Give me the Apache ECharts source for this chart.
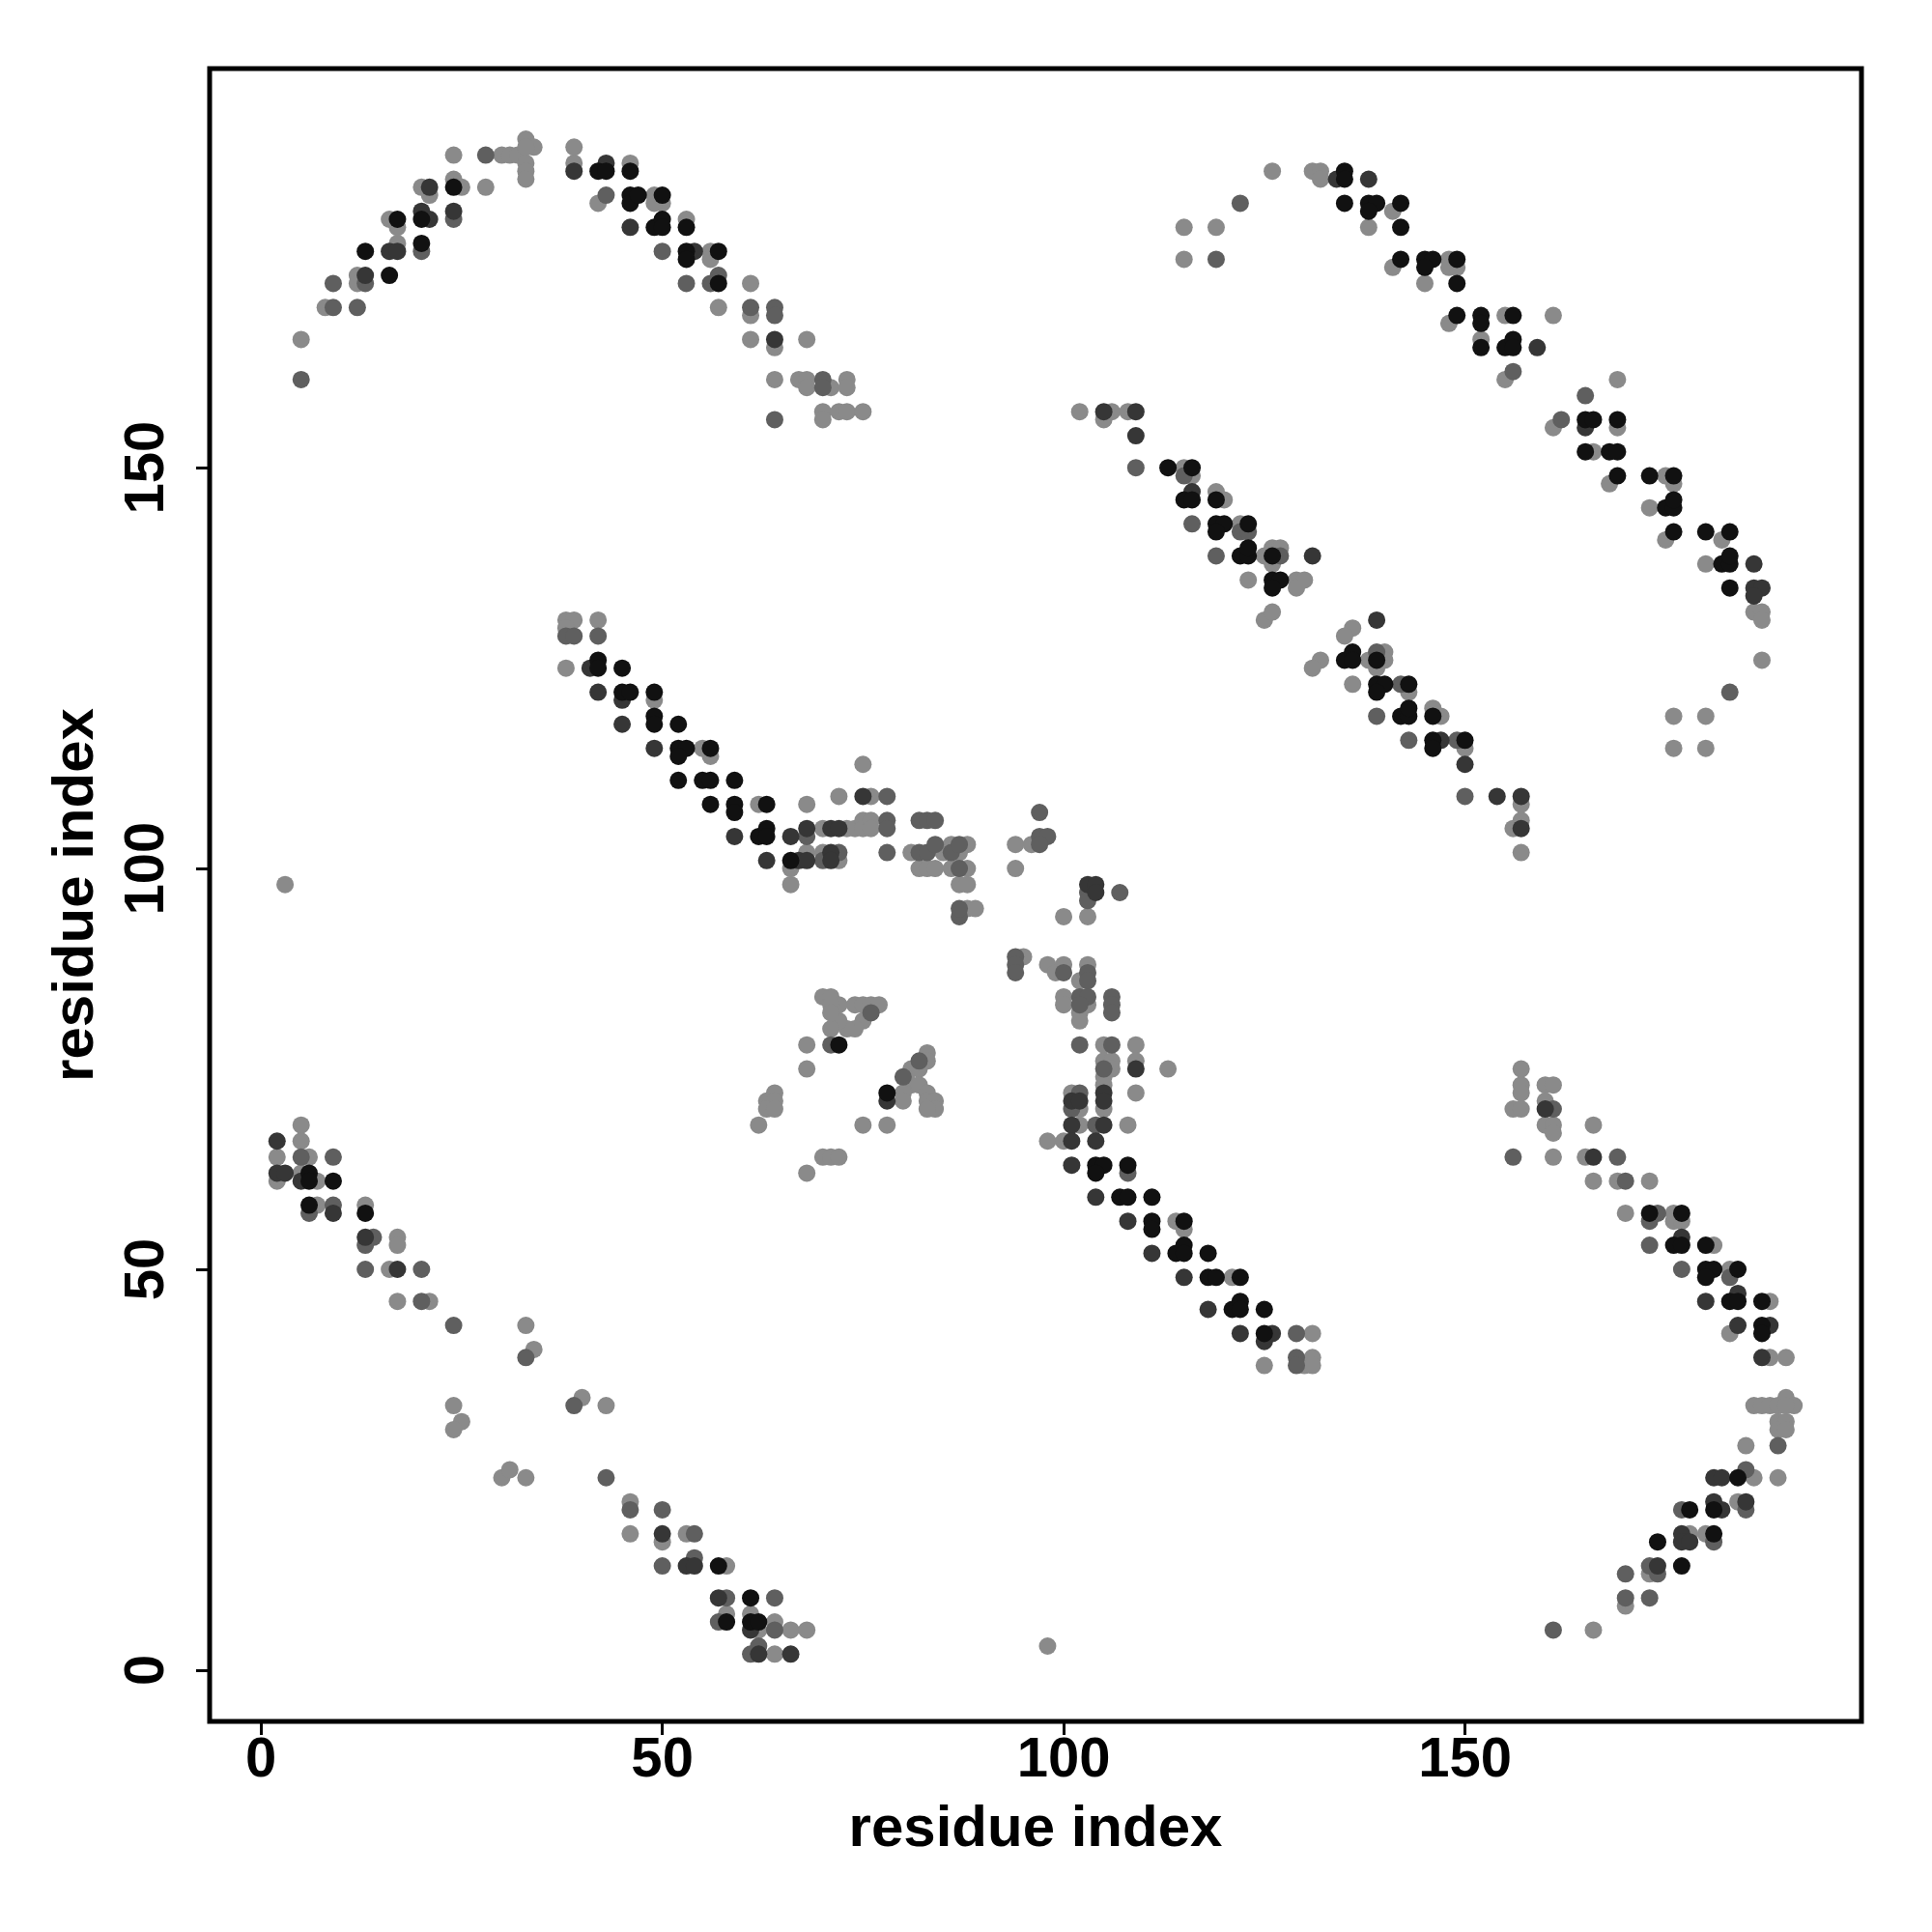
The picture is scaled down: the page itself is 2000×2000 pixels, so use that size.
<!DOCTYPE html>
<html>
<head>
<meta charset="utf-8">
<script src="https://cdn.jsdelivr.net/npm/echarts@6/dist/echarts.min.js"></script>
<style>html,body{margin:0;padding:0;background:#fff}#chart{width:2000px;height:2000px}</style>
</head>
<body>
<div id="chart"></div>
<script>
// Axis ticks
const tickValues = [0, 50, 100, 150];
const axisTitle = 'residue index';

// Contacts, grouped by shade (black = strongest, light gray = weakest)
const blackPts = [
[13,177],[16,174],[17,181],[20,178],[20,181],[24,185],[42,187],[43,187],[46,187],[46,184],[46,183],[47,184],[50,184],[49,180],[50,181],[50,180],[53,180],[53,177],[53,176],[57,177],[57,173],
[135,187],[135,186],[135,183],[138,183],[139,183],[138,182],[142,183],[142,180],[142,176],[145,176],[146,176],[145,175],[149,176],[149,173],[149,169],[152,169],[152,168],[152,165],[156,169],[155,165],[156,166],[156,165],[165,156],[166,156],[169,156],[165,152],[168,152],[169,152],[169,149],[173,149],[176,149],[175,145],[176,145],[176,146],[176,142],[180,142],[183,142],[182,138],[183,138],[183,139],[183,135],
[113,150],[116,150],[115,146],[116,146],[119,146],[119,143],[120,143],[119,142],[123,143],[122,139],[123,139],[123,140],[126,139],[126,136],[127,136],[126,135],[135,126],[136,127],[136,126],[139,126],[139,123],[140,123],[139,122],[143,123],[142,119],[143,119],[143,120],[146,119],[146,116],[146,115],[150,116],
[42,126],[42,125],[45,125],[45,122],[46,122],[49,122],[49,119],[49,118],[52,118],[52,115],[53,115],[52,114],[56,115],[52,111],[55,111],[56,111],[59,111],[56,108],[59,108],[59,107],[63,108],[62,104],[63,105],[63,104],[66,101],
[72,78],[78,72],
[104,63],[105,63],[104,62],[108,63],[107,59],[108,59],[111,59],[111,56],[111,55],[115,56],[114,52],[115,53],[115,52],[118,52],[118,49],[119,49],[122,49],[121,45],[122,46],[122,45],[125,45],[125,42],
[6,62],[6,61],[9,61],[6,58],[13,57],[57,13],[61,9],[58,6],[61,6],[62,6],
[173,57],[177,57],[176,53],[177,53],[180,53],[180,50],[181,50],[180,49],[184,50],[183,46],[184,46],[187,46],[187,43],[187,42],[184,24],[181,20],[178,20],[181,17],[174,16],[177,13]
];
const darkPts = [
[13,174],[16,177],[17,177],[20,182],[21,181],[21,185],[24,182],[39,187],[43,188],[46,180],[54,177],[64,166],
[134,186],[138,186],[159,165],[165,155],[186,138],[186,135],[187,135],[186,134],
[105,157],[109,157],[109,154],[116,147],[131,139],[139,131],[147,116],[150,113],[154,109],[157,109],[157,105],
[41,125],[42,122],[45,121],[45,118],[49,115],[59,104],[66,104],[63,101],[67,101],[68,101],[68,105],[71,105],[72,105],[71,102],[71,101],[75,109],
[103,98],[104,98],[104,97],[78,71],
[109,75],[105,72],[105,71],[101,71],[102,71],[101,68],[105,68],[101,66],[104,66],[101,63],[104,59],[108,56],[111,52],[115,49],[118,45],[122,42],[126,42],[125,41],
[2,66],[2,62],[3,62],[5,61],[9,57],[13,54],[17,50],[50,17],[53,13],[54,13],[57,9],[61,5],[62,2],[66,2],
[160,70],[166,64],[177,54],[180,46],[184,47],[184,43],[188,43],[187,39],[181,24],[182,24],[181,21],[182,20],[185,21],[177,17],[177,16],[178,16],[174,13]
];
const midPts = [
[5,161],[9,170],[12,170],[9,173],[13,173],[20,177],[24,181],[28,189],[43,184],[50,177],[57,174],[56,173],[53,173],[61,170],[64,170],[64,169],[70,161],[70,160],[64,156],
[122,183],[119,176],[156,162],[165,159],[162,156],[183,122],
[109,150],[115,149],[116,143],[122,142],[123,142],[119,139],[127,139],[139,127],[142,123],[139,119],[143,116],[149,116],[150,109],
[38,129],[39,129],[42,129],[68,104],[72,102],[70,101],[78,109],[78,106],[78,105],[78,102],[82,102],[83,102],[82,106],[83,106],[84,106],[84,103],[86,102],[87,103],[87,100],[87,94],[87,95],
[97,104],[98,104],[97,103],[97,107],[103,97],[107,97],[103,96],[94,89],[94,88],[94,87],[100,87],[103,87],[103,86],[102,84],[103,84],[102,83],[106,84],[106,83],[106,82],
[76,82],[71,78],[82,76],[80,74],
[102,78],[106,78],[105,75],[102,72],[101,70],[104,68],[108,62],[129,42],[129,39],[129,38],
[5,64],[9,64],[6,57],[9,58],[14,54],[13,53],[13,50],[20,50],[20,46],[24,43],[33,39],[39,33],[43,24],[46,20],[50,20],[54,17],[50,13],[54,14],[58,9],[64,9],[57,6],[64,5],[61,2],[62,3],
[161,70],[156,64],[169,64],[170,61],[174,57],[173,56],[173,53],[177,50],[183,49],[189,28],[185,25],[185,20],[177,20],[181,16],[173,13],[174,12],[170,12],[170,9],[173,9],[161,5]
];
const lightPts = [
[5,166],[8,170],[12,174],[12,173],[17,178],[16,181],[17,180],[20,185],[21,184],[24,186],[25,185],[24,189],[28,185],[30,189],[31,189],[32,189],[33,191],[34,190],[33,190],[33,188],[33,187],[33,186],[39,190],[39,188],
[46,188],[42,183],[49,184],[50,183],[49,183],[53,181],[56,177],[56,176],[57,170],[61,173],[61,169],[61,166],[64,165],[68,166],[64,161],[67,161],[68,161],[68,160],[71,160],[73,161],[73,160],[70,157],[70,156],[72,157],[73,157],[75,157],
[126,187],[131,187],[132,187],[132,186],[141,182],[138,180],[115,180],[119,180],[115,176],[141,175],[148,176],[148,175],[149,175],[145,173],[148,168],[152,166],[155,169],[161,169],[155,161],[169,161],[161,155],[169,155],[166,152],[168,148],[175,149],[176,148],[173,145],[175,141],[182,141],[180,138],[186,132],[187,132],[187,131],[187,126],[176,119],[180,119],[176,115],[180,115],
[102,157],[105,156],[106,157],[108,157],[115,150],[116,149],[119,147],[120,146],[122,143],[125,139],[126,140],[127,140],[126,138],[123,136],[129,136],[130,136],[129,135],[125,131],[126,132],[136,130],[135,129],[132,126],[131,125],[138,126],[140,127],[140,126],[139,125],[136,123],[143,122],[146,120],[147,119],[150,115],[157,108],[157,106],[156,105],[157,102],
[38,131],[39,131],[38,130],[42,131],[38,125],[49,121],[55,115],[56,114],[62,108],[66,100],[66,98],[68,108],[68,102],[70,105],[73,105],[74,105],[75,106],[75,105],[76,106],[76,105],[70,102],[72,101],[72,109],[75,113],[76,109],[81,102],[82,100],[83,100],[84,100],[85,102],[86,103],[88,103],[87,102],[86,100],[88,100],[87,98],[88,98],[88,95],[89,95],
[94,103],[94,100],[96,103],[103,94],[100,94],[95,89],[98,88],[100,88],[103,88],[99,87],[102,86],[100,84],[100,83],[102,82],[102,81],[103,83],
[70,84],[71,84],[72,83],[71,83],[74,83],[75,83],[76,83],[77,83],[75,81],[74,80],[73,80],[72,81],[71,80],[71,82],[68,78],[68,75],[83,77],[81,75],[83,76],[82,75],[81,73],[82,73],[80,72],[80,71],[83,72],[83,71],[84,71],[84,70],[83,70],[64,72],[63,71],[64,71],[63,70],[64,70],[62,68],[75,68],[78,68],[70,64],[71,64],[72,64],[68,62],
[105,78],[109,78],[105,76],[106,76],[106,75],[109,76],[113,75],[105,74],[105,73],[105,70],[109,72],[101,72],[102,70],[102,68],[108,68],[98,66],[100,66],[114,56],[115,55],[121,49],[131,42],[125,38],[130,38],[131,39],[131,38],
[5,68],[5,66],[2,64],[6,64],[2,61],[5,62],[7,61],[7,58],[13,58],[17,54],[17,53],[16,50],[17,46],[21,46],[33,43],[34,40],[24,33],[25,31],[24,30],[40,34],[43,33],[30,24],[31,25],[33,24],[46,21],[46,17],[50,16],[53,17],[58,13],[58,7],[61,7],[62,5],[64,6],[66,5],[68,5],[64,2],
[157,75],[157,73],[157,72],[156,70],[157,70],[160,73],[161,73],[160,71],[160,68],[161,68],[161,67],[166,68],[161,64],[165,64],[166,61],[169,61],[173,61],[170,57],[176,57],[176,56],[177,56],[181,53],[183,50],[188,46],[183,42],[188,39],[190,39],[186,33],[187,33],[188,33],[189,33],[190,34],[191,33],[190,33],[189,31],[190,31],[189,30],[190,30],[185,28],[186,24],[189,24],[184,21],[178,17],[180,17],[173,12],[170,8],[166,5],
[3,98],[98,3]
];

const shades = [
  { data: lightPts, color: '#8a8a8a' },
  { data: midPts,   color: '#5f5f5f' },
  { data: darkPts,  color: '#363636' },
  { data: blackPts, color: '#111111' }
];

const font = 'Liberation Sans, Arial, Helvetica, sans-serif';
const chart = echarts.init(document.getElementById('chart'), null, { renderer: 'canvas' });

function axisCommon(isY) {
  return {
    type: 'value',
    min: -6.4,
    max: isY ? 199.8 : 199.4,
    axisLine: { show: false, onZero: false },
    splitLine: { show: false },
    axisTick: {
      show: true, inside: false, length: 14,
      customValues: tickValues,
      lineStyle: { color: '#000', width: 3 }
    },
    axisLabel: {
      customValues: tickValues,
      fontFamily: font, fontWeight: 'bold', fontSize: 58, color: '#000',
      margin: isY ? 35 : 12,
      rotate: isY ? 90 : 0
    },
    name: axisTitle,
    nameLocation: 'middle',
    nameGap: isY ? 108 : 82,
    nameTextStyle: { fontFamily: font, fontWeight: 'bold', fontSize: 60, color: '#000' }
  };
}

chart.setOption({
  animation: false,
  backgroundColor: '#ffffff',
  grid: {
    show: true, left: 217, top: 71, right: 73, bottom: 218,
    borderColor: '#000', borderWidth: 5, backgroundColor: 'transparent'
  },
  xAxis: axisCommon(false),
  yAxis: axisCommon(true),
  series: shades.map(s => ({
    type: 'scatter',
    data: s.data,
    symbol: 'circle',
    symbolSize: 18,
    itemStyle: { color: s.color, opacity: 1 },
    emphasis: { disabled: true },
    silent: true
  }))
});
</script>
</body>
</html>
